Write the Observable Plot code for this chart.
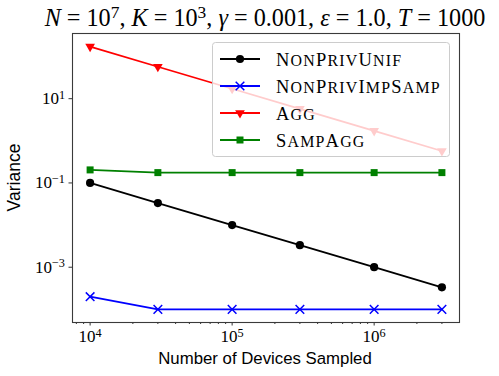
<!DOCTYPE html>
<html>
<head>
<meta charset="utf-8">
<script src="https://cdn.jsdelivr.net/npm/d3@7"></script>
<script src="https://cdn.jsdelivr.net/npm/@observablehq/plot@0.6"></script>
<style>
  html, body { margin: 0; padding: 0; background: white; }
</style>
</head>
<body>
<div id="chart"></div>
<script>
// ---- data ----
const devices = [1e4, 3e4, 1e5, 3e5, 1e6, 3e6];
const nonPrivUnif = [0.1, 0.0333, 0.01, 0.00333, 0.001, 0.000333];
const nonPrivImpSamp = [2e-4, 1e-4, 1e-4, 1e-4, 1e-4, 1e-4];
const agg = [172, 57.3, 17.2, 5.73, 1.72, 0.573];
const sampAgg = [0.204, 0.176, 0.176, 0.176, 0.176, 0.176];
const seriesNames = ["NonPrivUnif", "NonPrivImpSamp", "Agg", "SampAgg"];
const seriesColors = ["#000000", "#0000ff", "#ff0000", "#008000"];
const seriesSymbols = ["circle", "times", "triangle", "square"];
const xMajorTicks = [1e4, 1e5, 1e6];
const xMinorTicks = [8e3, 9e3, 2e4, 3e4, 4e4, 5e4, 6e4, 7e4, 8e4, 9e4,
  2e5, 3e5, 4e5, 5e5, 6e5, 7e5, 8e5, 9e5, 2e6, 3e6];
const yMajorTicks = [1e-3, 1e-1, 1e1];
const xLabel = "Number of Devices Sampled";
const yLabel = "Variance";

const allValues = [nonPrivUnif, nonPrivImpSamp, agg, sampAgg];
const rows = [];
allValues.forEach((vals, si) => {
  vals.forEach((v, i) => rows.push({series: seriesNames[si], n: devices[i], v}));
});

const exp = d => Math.round(Math.log10(d));
const symR = {circle: 4.1, times: 4.0, triangle: 3.6, square: 3.95};

const seriesMarks = [];
seriesNames.forEach((name, si) => {
  const data = rows.filter(r => r.series === name);
  const col = seriesColors[si];
  seriesMarks.push(Plot.line(data, {x: "n", y: "v", stroke: col, strokeWidth: 1.8}));
  const sym = seriesSymbols[si];
  if (sym === "times") {
    seriesMarks.push(Plot.dot(data, {x: "n", y: "v", symbol: "times", stroke: col, strokeWidth: 1.5, r: symR[sym]}));
  } else if (sym === "triangle") {
    seriesMarks.push(Plot.dot(data, {x: "n", y: "v", symbol: "triangle", fill: col, r: symR[sym], rotate: 180}));
  } else {
    seriesMarks.push(Plot.dot(data, {x: "n", y: "v", symbol: sym, fill: col, r: symR[sym]}));
  }
});

const chart = Plot.plot({
  width: 499,
  height: 376,
  marginLeft: 72,
  marginRight: 40,
  marginTop: 33,
  marginBottom: 54,
  style: {fontFamily: "'Liberation Serif', serif", fontSize: "17px", color: "#333", background: "white"},
  x: {type: "log", domain: [Math.pow(10, 3.876), Math.pow(10, 6.601)]},
  y: {type: "log", domain: [Math.pow(10, -4.312), Math.pow(10, 2.547)]},
  marks: [
    ...seriesMarks,
    Plot.axisX({ticks: xMinorTicks, tickSize: 2, tickFormat: () => "", label: null}),
    Plot.axisX({ticks: xMajorTicks, tickSize: 3.5, tickPadding: 4, fontSize: 17, tickFormat: d => "1e" + exp(d), label: null}),
    Plot.axisY({ticks: yMajorTicks, tickSize: 3.5, tickPadding: 4, fontSize: 17, tickFormat: d => "1e" + exp(d), label: null}),
    Plot.frame({stroke: "#3a3a3a", strokeWidth: 1.1})
  ]
});

document.getElementById("chart").appendChild(chart);
const svg = d3.select(chart);

// superscript tick labels: 10^k
svg.selectAll('g[aria-label="x-axis tick label"] text, g[aria-label="y-axis tick label"] text').each(function () {
  const t = d3.select(this);
  const s = t.text();
  if (!s.startsWith("1e")) return;
  const e = s.slice(2).replace("-", "\u2212");
  t.text(null).attr("font-size", 17).attr("fill", "#000");
  t.append("tspan").text("10");
  t.append("tspan").attr("dy", "-0.45em").attr("font-size", "0.72em").text(e);
});

// title
const title = svg.append("text")
  .attr("x", 265).attr("y", 26)
  .attr("text-anchor", "middle")
  .attr("font-family", "'Liberation Serif', serif")
  .attr("font-size", 24.2)
  .attr("fill", "#000");
const titleParts = [
  ["N", "i"], [" = 10", "n"], ["7", "s"], [", ", "n"], ["K", "i"], [" = 10", "n"], ["3", "s"],
  [", ", "n"], ["\u03b3", "i"], [" = 0.001, ", "n"], ["\u03b5", "i"], [" = 1.0, ", "n"], ["T", "i"], [" = 1000", "n"]
];
let up = false;
titleParts.forEach(([txt, kind]) => {
  const ts = title.append("tspan").text(txt);
  if (kind === "i") ts.attr("font-style", "italic");
  if (kind === "s") { ts.attr("dy", "-0.45em").attr("font-size", "0.72em"); up = true; }
  else if (up) { ts.attr("dy", "0.33em"); up = false; }
});

// axis labels
svg.append("text")
  .attr("x", 265).attr("y", 364)
  .attr("text-anchor", "middle")
  .attr("font-family", "'Liberation Sans', sans-serif")
  .attr("font-size", 16.8)
  .attr("fill", "#000")
  .text(xLabel);
svg.append("text")
  .attr("transform", "translate(20,177.5) rotate(-90)")
  .attr("text-anchor", "middle")
  .attr("font-family", "'Liberation Sans', sans-serif")
  .attr("font-size", 17.5)
  .attr("fill", "#000")
  .text(yLabel);

// legend
const lg = svg.append("g");
lg.append("rect")
  .attr("x", 212.5).attr("y", 42.5).attr("width", 237).attr("height", 114)
  .attr("rx", 3).attr("fill", "white").attr("fill-opacity", 0.8)
  .attr("stroke", "#cccccc").attr("stroke-width", 1);
const rowY = [59, 86, 113, 140];
const symMap = {circle: d3.symbolCircle, times: d3.symbolTimes, triangle: d3.symbolTriangle, square: d3.symbolSquare};
const legFont = 18.5;
seriesNames.forEach((name, i) => {
  const y = rowY[i];
  const col = seriesColors[i];
  lg.append("line").attr("x1", 220).attr("x2", 260).attr("y1", y).attr("y2", y)
    .attr("stroke", col).attr("stroke-width", 1.8);
  const sym = seriesSymbols[i];
  const size = Math.PI * symR[sym] * symR[sym];
  const p = lg.append("path")
    .attr("d", d3.symbol(symMap[sym], size)())
    .attr("transform", `translate(240,${y})` + (sym === "triangle" ? " rotate(180)" : ""));
  if (sym === "times") p.attr("fill", "none").attr("stroke", col).attr("stroke-width", 1.5);
  else p.attr("fill", col);
  const t = lg.append("text")
    .attr("x", 276).attr("y", y).attr("dy", "0.36em")
    .attr("text-anchor", "start")
    .attr("font-family", "'Liberation Serif', serif")
    .attr("font-size", legFont)
    .attr("letter-spacing", 1.2)
    .attr("fill", "#000");
  // manual small caps
  for (const ch of name) {
    const isUpper = ch === ch.toUpperCase();
    t.append("tspan")
      .attr("font-size", isUpper ? legFont : legFont * 0.86)
      .text(ch.toUpperCase());
  }
});
</script>
</body>
</html>
